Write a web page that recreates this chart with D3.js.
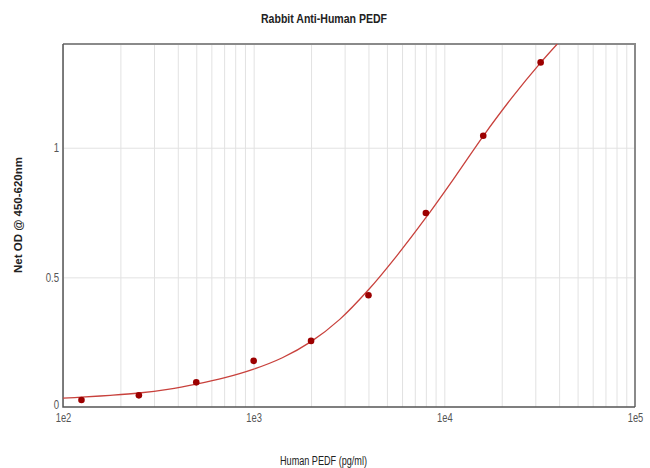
<!DOCTYPE html>
<html lang="en">
<head>
    <meta charset="UTF-8">
    <title>Rabbit Anti-Human PEDF</title>
    <script src="https://d3js.org/d3.v7.min.js"></script>
    <style>
        body { margin: 0; background: white; }
        .grids .domain { stroke: none; }
        .grids line { stroke: #e2e2e2; }
        .axis .domain, .axis line { display: none; }
        .axis text { fill: #555; font-family: "Liberation Sans", Arial, sans-serif; font-size: 12px; }
        .label { font-family: "Liberation Sans", Arial, sans-serif; fill: #222; }
    </style>
</head>
<body>
    <svg id="svg1" height="468" width="650"></svg>

    <script>
        // data ----------------------------------------------------------------
        const concentrations = [125, 250, 500, 1000, 2000, 4000, 8000, 16000, 32000];
        const odValues = [0.027, 0.045, 0.095, 0.178, 0.255, 0.431, 0.748, 1.046, 1.329];

        // fitted curve
        const curveX = [100, 125, 177, 250, 354, 500, 707, 1000, 1414, 2000, 2828, 4000, 5657, 8000, 11314, 16000, 22627, 32000, 39100];
        const curveY = [0.034, 0.038, 0.045, 0.054, 0.068, 0.088, 0.113, 0.146, 0.190, 0.252, 0.338, 0.452, 0.585, 0.730, 0.885, 1.045, 1.193, 1.328, 1.400];

        const xTicks = [1e2, 1e3, 1e4, 1e5];
        const yTicks = [0, 0.5, 1];

        // svg configuration ---------------------------------------------------
        const svg1 = d3.select("svg#svg1");
        const margin = {left: 63, right: 15, top: 44, bottom: 61};
        const chartWidth = 650 - margin.left - margin.right;
        const chartHeight = 468 - margin.top - margin.bottom;

        const xScale = d3.scaleLog().domain([1e2, 1e5]).range([0, chartWidth]);
        const yScale = d3.scaleLinear().domain([0, 1.4]).range([chartHeight, 0]);

        let frame = svg1.append("g").attr("transform", `translate(${margin.left},${margin.top})`);

        // grids
        const minorTicks = xScale.ticks(); // 1..9 x each decade
        frame.append("g")
            .attr("class", "x grids")
            .attr("transform", `translate(0,${chartHeight})`)
            .call(d3.axisBottom(xScale).tickValues(minorTicks).tickSize(-chartHeight).tickFormat(""));
        frame.append("g")
            .attr("class", "y grids")
            .call(d3.axisLeft(yScale).tickValues(yTicks.filter(d => d > 0)).tickSize(-chartWidth).tickFormat(""));

        // axes labels (condensed like the original)
        frame.append("g")
            .attr("class", "x axis")
            .attr("transform", `translate(0,${chartHeight + 3})`)
            .call(d3.axisBottom(xScale).tickValues(xTicks).tickSize(0).tickPadding(3)
                .tickFormat(d => "1e" + Math.round(Math.log10(d))))
            .selectAll("text").attr("transform", "scale(0.78,1)");
        frame.append("g")
            .attr("class", "y axis")
            .call(d3.axisLeft(yScale).tickValues(yTicks).tickSize(0).tickPadding(5)
                .tickFormat(d => d))
            .selectAll("text")
            .attr("transform", "scale(0.8,1)")
            .attr("dy", d => d === 0 ? "0.1em" : "0.32em");

        // plot border
        frame.append("path")
            .attr("d", `M0,0H${chartWidth}V${chartHeight}`)
            .attr("fill", "none")
            .attr("stroke", "#8a8a8a")
            .attr("stroke-width", 2);
        frame.append("path")
            .attr("d", `M0,0V${chartHeight}H${chartWidth}`)
            .attr("fill", "none")
            .attr("stroke", "#555")
            .attr("stroke-width", 1.5);

        // fitted curve
        frame.append("clipPath").attr("id", "clip")
            .append("rect").attr("width", chartWidth).attr("height", chartHeight);

        const lineGen = d3.line()
            .x(d => xScale(d[0]))
            .y(d => yScale(d[1]))
            .curve(d3.curveCatmullRom.alpha(0.5));

        frame.append("path")
            .attr("clip-path", "url(#clip)")
            .attr("fill", "none")
            .attr("stroke", "#c8413c")
            .attr("stroke-width", 1.3)
            .attr("d", lineGen(d3.zip(curveX, curveY)));

        // data points
        frame.selectAll("circle")
            .data(d3.zip(concentrations, odValues))
            .join("circle")
            .attr("cx", d => xScale(d[0]))
            .attr("cy", d => yScale(d[1]))
            .attr("r", 3.3)
            .attr("fill", "#9c0000");

        // titles
        svg1.append("text")
            .attr("class", "label")
            .attr("x", 261).attr("y", 23)
            .attr("textLength", 126).attr("lengthAdjust", "spacingAndGlyphs")
            .style("font-weight", "bold").style("font-size", "13px")
            .text("Rabbit Anti-Human PEDF");

        svg1.append("text")
            .attr("class", "label")
            .attr("x", 280).attr("y", 465)
            .attr("textLength", 87).attr("lengthAdjust", "spacingAndGlyphs")
            .style("font-size", "12px")
            .text("Human PEDF (pg/ml)");

        svg1.append("text")
            .attr("class", "label")
            .attr("transform", "translate(22,273) rotate(-90)")
            .attr("textLength", 116).attr("lengthAdjust", "spacingAndGlyphs")
            .style("font-weight", "bold").style("font-size", "10.5px")
            .text("Net OD @ 450-620nm");
    </script>
</body>
</html>
